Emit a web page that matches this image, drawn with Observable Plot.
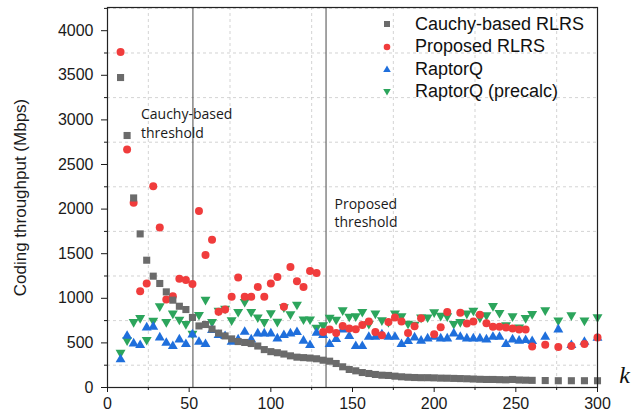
<!DOCTYPE html>
<html><head><meta charset="utf-8">
<script src="https://cdn.jsdelivr.net/npm/d3@7"></script>
<script src="https://cdn.jsdelivr.net/npm/@observablehq/plot@0.6"></script>
<style>
html,body{margin:0;padding:0;background:#fff;}
#wrap{position:relative;width:631px;height:412px;overflow:hidden;}
#legend{position:absolute;left:380px;top:12.7px;font-family:"Liberation Sans",Arial,sans-serif;font-size:18px;color:#111;}
.row{position:relative;height:22.6px;line-height:22.6px;padding-left:35px;white-space:nowrap;}
.row svg{position:absolute;left:0;top:4.3px;}
</style>
</head><body>
<div id="wrap"></div>
<script>
// ---- data ----
const kValues = [8,12,16,20,24,28,32,36,40,44,48,52,56,60,64,68,72,76,80,84,88,92,96,100,104,108,112,116,120,124,128,132,136,140,144,148,152,156,160,164,168,172,176,180,184,188,192,196,200,204,208,212,216,220,224,228,232,236,240,244,248,252,256,260,268,276,284,292,300];
const cauchyRLRS = [3475,2825,2125,1722,1427,1248,1166,1072,979,911,874,785,690,706,655,610,578,545,515,505,493,465,425,402,390,375,355,340,335,330,322,306,295,269,232,202,187,168,157,146,138,135,127,120,115,112,110,110,108,105,104,102,100,98,95,92,90,90,88,86,90,84,82,80,78,76,76,76,76];
const proposedRLRS = [3762,2668,2070,1080,1166,2257,1794,987,1024,1218,1205,1160,1980,1485,1655,848,874,1016,1233,1016,1016,1128,1016,1166,1240,904,1352,1190,1128,1305,1285,623,650,610,690,661,652,700,740,623,585,735,785,740,610,688,775,null,597,675,845,null,837,717,740,815,720,680,680,672,661,650,650,460,478,455,465,488,560];
const raptorQ = [314,578,493,474,672,680,560,500,463,538,485,594,511,485,642,586,575,511,538,623,538,605,605,605,549,586,605,620,523,474,612,586,485,541,650,575,463,463,567,567,594,567,567,485,519,560,523,549,567,549,549,605,567,549,549,549,538,567,567,485,538,523,530,519,567,650,474,511,556];
const raptorQPrecalc = [390,530,735,780,535,750,911,735,830,762,712,605,815,985,735,862,885,755,848,960,848,787,735,835,738,900,822,930,765,765,672,698,783,762,866,795,800,848,714,830,755,735,830,800,717,705,785,787,845,805,800,714,735,830,862,785,810,915,837,700,800,675,780,825,866,752,810,752,788];

const seriesNames = ["Cauchy-based RLRS","Proposed RLRS","RaptorQ","RaptorQ (precalc)"];
const seriesColors = ["#6b6b6b","#f03c3c","#1f6fdc","#2ca55c"];

const thresholds = [52.3, 133.8];
const thresholdLabels = ["Cauchy-based\nthreshold", "Proposed\nthreshold"];
const thresholdLabelK = [20.5, 139];
const thresholdLabelV = [2969, 1963];

const xTicks = [0,50,100,150,200,250,300];
const xMinor = [25,75,125,175,225,275];
const yTicks = [0,500,1000,1500,2000,2500,3000,3500,4000];
const yMinor = [250,750,1250,1750,2250,2750,3250,3750,4250];

// ---- build rows ----
const toRows = (vals) => kValues.map((k, i) => ({k, v: vals[i]})).filter(d => d.v != null);
const cauchyRows = toRows(cauchyRLRS);
const propRows = toRows(proposedRLRS);
const rqRows = toRows(raptorQ);
const rqpRows = toRows(raptorQPrecalc);
const annRows = thresholdLabels.map((t, i) => ({t, k: thresholdLabelK[i], v: thresholdLabelV[i]}));

const gridStyle = {stroke: "#c8c8c8", strokeOpacity: 1, strokeDasharray: "3,3", strokeWidth: 0.8};
const plain = d => String(d);

const chart = Plot.plot({
  width: 631, height: 412,
  marginLeft: 107, marginRight: 34, marginTop: 7, marginBottom: 25,
  x: {domain: [0, 300]},
  y: {domain: [0, 4260]},
  style: {fontFamily: "'Liberation Sans', Arial, sans-serif", fontSize: "16px", background: "white", color: "#1a1a1a"},
  marks: [
    Plot.gridX(xMinor, gridStyle),
    Plot.gridY(yMinor.filter(v => v < 4260), gridStyle),
    Plot.ruleX(thresholds, {stroke: "#4a4a4a", strokeWidth: 1}),
    Plot.text(annRows, {x: "k", y: "v", text: "t", textAnchor: "start", lineAnchor: "middle", lineHeight: 1.3, fontFamily: "'Open Sans', sans-serif", fontSize: 14, fill: "#1a1a1a"}),
    Plot.dot(rqpRows, {x: "k", y: "v", symbol: "triangle", rotate: 180, r: 3.7, fill: seriesColors[3], stroke: "none"}),
    Plot.dot(rqRows, {x: "k", y: "v", symbol: "triangle", r: 3.7, fill: seriesColors[2], stroke: "none"}),
    Plot.dot(propRows, {x: "k", y: "v", symbol: "circle", r: 4, fill: seriesColors[1], stroke: "none"}),
    Plot.dot(cauchyRows, {x: "k", y: "v", symbol: "square", r: 4, fill: seriesColors[0], stroke: "none"}),
    Plot.frame({stroke: "#222", strokeWidth: 1.2}),
    Plot.axisY(yTicks, {tickSize: 6, tickPadding: 8, tickFormat: plain, label: null, fontSize: 16}),
    Plot.axisY(yMinor.filter(v => v < 4260), {tickSize: 3, tickFormat: () => "", label: null}),
    Plot.axisX(xTicks, {tickSize: 5, tickPadding: 5, tickFormat: plain, label: null, fontSize: 16}),
    Plot.axisX(xMinor, {tickSize: 3, tickFormat: () => "", label: null}),
    Plot.text(["Coding throughput (Mbps)"], {frameAnchor: "left", textAnchor: "middle", lineAnchor: "middle", dx: -87, rotate: -90, fontSize: 17, fill: "#1a1a1a"}),
    Plot.text(["k"], {frameAnchor: "bottom-right", textAnchor: "middle", lineAnchor: "middle", dx: 27, dy: -12, fontSize: 24, fontStyle: "italic", fontFamily: "'Liberation Serif', 'DejaVu Serif', serif", fill: "#111"})
  ]
});
document.getElementById("wrap").appendChild(chart);

// ---- legend ----
const legend = document.createElement("div");
legend.id = "legend";
const symbols = ["square","circle","triangle","triangleDown"];
seriesNames.forEach((name, i) => {
  const row = document.createElement("div");
  row.className = "row";
  const svg = d3.create("svg").attr("width", 14).attr("height", 14);
  const g = svg.append("g").attr("transform", "translate(7,7)").attr("fill", seriesColors[i]);
  if (symbols[i] === "square") g.append("rect").attr("x", -3).attr("y", -3).attr("width", 6).attr("height", 6);
  else if (symbols[i] === "circle") g.append("circle").attr("r", 3.3);
  else if (symbols[i] === "triangle") g.append("path").attr("d", "M0,-3.4L3.8,3L-3.8,3Z");
  else g.append("path").attr("d", "M0,3.4L3.8,-3L-3.8,-3Z");
  row.appendChild(svg.node());
  row.appendChild(document.createTextNode(name));
  legend.appendChild(row);
});
document.getElementById("wrap").appendChild(legend);
</script>
</body></html>
